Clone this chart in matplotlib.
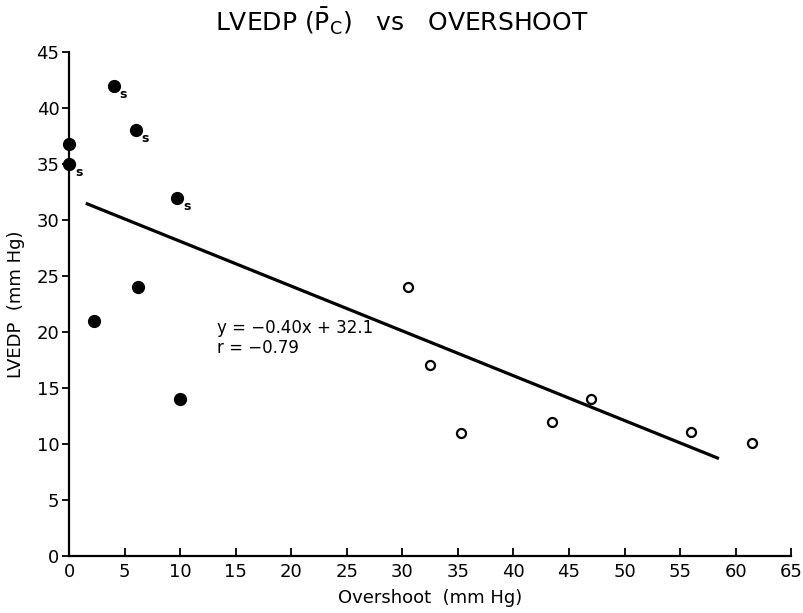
import matplotlib
matplotlib.use('Agg')
import matplotlib.pyplot as plt
import numpy as np

# filled points (some marked "s")
filled_x = [0, 0, 4, 6, 9.7, 2.2, 6.2, 10]
filled_y = [36.8, 35, 42, 38, 32, 21, 24, 14]
filled_lab = ['', 's', 's', 's', 's', '', '', '']

# open points
open_x = [30.5, 32.5, 35.3, 43.5, 47, 56, 61.5]
open_y = [24, 17.1, 11, 12, 14, 11.1, 10.1]

# regression line
slope = -0.40
intercept = 32.1
line_x = [1.5, 58.5]

xticks = list(range(0, 70, 5))
yticks = list(range(0, 50, 5))

fig = plt.figure(figsize=(8.04, 6.13), dpi=100)
ax = fig.add_axes([0.086, 0.093, 0.898, 0.822])

lx = np.array(line_x)
ax.plot(lx, slope * lx + intercept, color='black', lw=2.3, solid_capstyle='butt')
ax.plot(filled_x, filled_y, 'o', color='black', ms=8.5, clip_on=False)
ax.plot(open_x, open_y, 'o', mfc='white', mec='black', mew=1.6, ms=6.5, clip_on=False)

for x, y, s in zip(filled_x, filled_y, filled_lab):
    if s:
        ax.annotate(s, (x, y), xytext=(7, -6), textcoords='offset points',
                    fontsize=9, fontweight='bold', ha='center', va='center')

ax.text(13.3, 20.4, 'y = −0.40x + 32.1', fontsize=12, ha='left', va='center')
ax.text(13.3, 18.6, 'r = −0.79', fontsize=12, ha='left', va='center')

ax.set_xlim(0, 65)
ax.set_ylim(0, 45)
ax.set_xticks(xticks)
ax.set_yticks(yticks)
ax.tick_params(axis='x', direction='in', length=6, width=1.3, labelsize=13, pad=5)
ax.tick_params(axis='y', direction='out', length=5, width=1.3, labelsize=13, pad=2)
for sp in ['top', 'right']:
    ax.spines[sp].set_visible(False)
for sp in ['left', 'bottom']:
    ax.spines[sp].set_linewidth(1.6)

ax.set_xlabel('Overshoot  (mm Hg)', fontsize=13, labelpad=6)
ax.set_ylabel('LVEDP  (mm Hg)', fontsize=13, labelpad=8)
fig.text(0.5, 0.965, r'LVEDP ($\bar{\mathrm{P}}_\mathrm{C}$)   vs   OVERSHOOT',
         fontsize=18, ha='center', va='center')

plt.savefig('out.png', dpi=100)
